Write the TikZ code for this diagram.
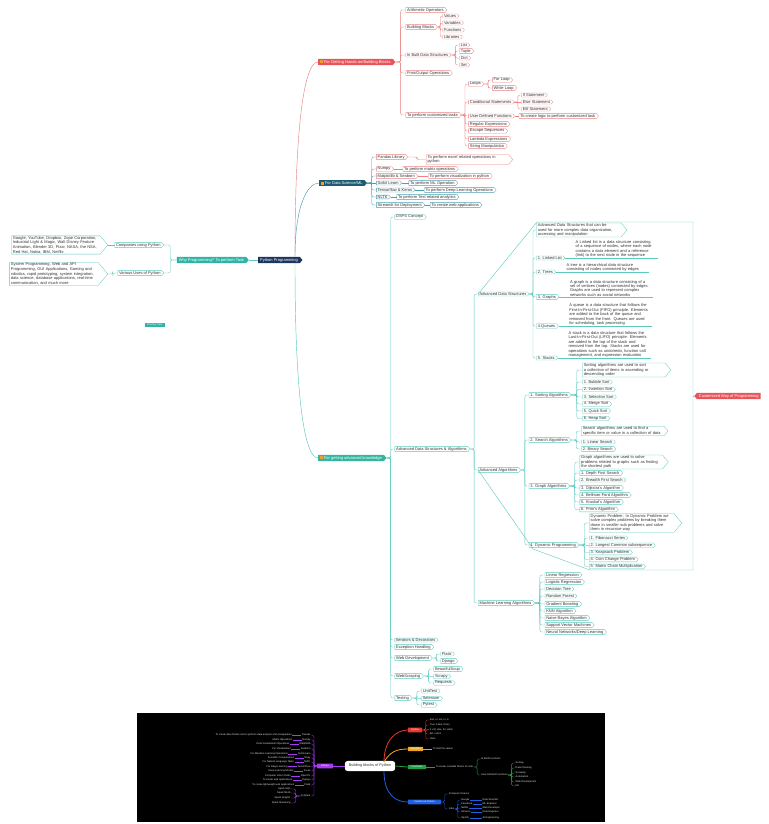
\documentclass[tikz,border=0pt]{standalone}
\usepackage{fontspec}
\setmainfont{Liberation Sans}
\usetikzlibrary{shapes.symbols,calc}
\definecolor{rfill}{HTML}{E8545A}
\definecolor{rline}{HTML}{E98585}
\definecolor{navy}{HTML}{1B365D}
\definecolor{tfill}{HTML}{2FB3A6}
\definecolor{tline}{HTML}{5CC8BE}
\definecolor{bline}{HTML}{4A9FB0}
\definecolor{dsfill}{HTML}{1E5B70}
\definecolor{afill}{HTML}{33B59E}
\definecolor{txt}{HTML}{333333}
\definecolor{icon}{HTML}{F39C34}
\definecolor{purp}{HTML}{A63CF0}
\definecolor{sred}{HTML}{E53935}
\definecolor{syel}{HTML}{F2A81D}
\definecolor{sgrn}{HTML}{22A046}
\definecolor{sblu}{HTML}{1F5FE0}
\hyphenpenalty=10000
\exhyphenpenalty=10000
\newcommand\fs{\fontsize{4}{4.6}\selectfont}
\newcommand\fsd{\fontsize{4}{4.4}\selectfont}
\newcommand\fsb{\fontsize{2.5}{3}\selectfont}
\newcommand\ic{\textcolor{icon}{\rule[-0.2pt]{2.8pt}{2.8pt}}\hspace{1pt}}
\newcommand\kid[7]{%
  \node[#1,xshift=#5pt] (#2) at (#3.east |- 0,#4) {#7};
  \draw[#6,lk] (#3.east) -| ($(#3.east)!0.5!(#2.west)$) |- (#2.west);}
\newcommand\kidh[6]{%
  \node[#1,xshift=#4pt] (#2) at (#3.east) {#6};
  \draw[#5,lk] (#3.east) -- (#2.west);}
\newcommand\libr[4]{%
  \node[bl,anchor=east] (#1) at (311,#2) {#3};
  \node[bl,anchor=east,xshift=-9pt] (#1d) at (#1.west) {#4};
  \draw[purp,line width=0.9pt] (#1d.east) -- (#1.west);
  \draw[purp,line width=0.3pt,rounded corners=1.5pt] (lib.west) -| ($(lib.west)!0.5!(#1.east)$) |- (#1.east);}
\newcommand\bkid[5]{% color name parent y text
  \node[bl,anchor=west] (#2) at (#3.east |- 0,#4) [xshift=7pt] {#5};
  \draw[#1,line width=0.35pt,rounded corners=1.5pt] (#3.east) -| ($(#3.east)!0.5!(#2.west)$) |- (#2.west);}
\begin{document}
\begin{tikzpicture}[x=1pt,y=-1pt,
  lk/.style={line width=0.35pt, rounded corners=2pt},
  tag/.style={shape=signal, signal to=east, signal pointer angle=100, draw, fill=white,
    inner xsep=1.3pt, inner ysep=0.5pt, line width=0.3pt, anchor=west, text=txt, font=\fs},
  rt/.style={tag, draw=rline},
  tt/.style={tag, draw=tline},
  bt/.style={tag, draw=bline},
  rtb/.style={rt, text width=#1, align=left},
  ttb/.style={tt, text width=#1, align=left},
  ft/.style={shape=signal, signal to=east, signal pointer angle=100, fill=#1, text=white,
    inner xsep=2pt, inner ysep=1.3pt, anchor=west, font=\fs},
  desc/.style={font=\fsd, text width=82pt, align=left, inner sep=0.5pt, anchor=south west, text=txt},
  bl/.style={font=\fsb, text=gray!25, inner sep=0.4pt},
  cbx/.style={fill=#1, text=white, font=\fsb, inner xsep=1.5pt, inner ysep=1.2pt, rounded corners=0.5pt}
]
\useasboundingbox (0,0) rectangle (768,824);
\fill[white] (0,0) rectangle (768,824);

% ---------- left part ----------
\node[ft=navy] (pp) at (258,260) {Python Programming};
\node[ft=tfill, anchor=east] (why) at (249,260) {Why Programming? To perform Task};
\draw[tline, line width=0.4pt] (why.east) -- (pp.west);
\node[tt, anchor=east] (cu) at (164,245) {Companies using Python};
\node[tt, anchor=east] (vu) at (164,273) {Various Uses of Python};
\draw[tline,lk] (why.west) -| ($(why.west)!0.5!(cu.east)$) |- (cu.east);
\draw[tline,lk] (why.west) -| ($(why.west)!0.5!(vu.east)$) |- (vu.east);
\node[tt, anchor=east, text width=86pt, align=left] (cb) at (108,245) {Google, YouTube, Dropbox, Zope Corporation, Industrial Light \& Magic, Walt Disney Feature Animation, Blender 3D, Pixar, NASA, the NSA, Red Hat, Nokia, IBM, Netflix};
\node[tt, anchor=east, text width=86pt, align=left] (vb) at (108,274) {System Programming, Web and API Programming, GUI Applications, Gaming and robotics, rapid prototyping, system integration, data science, database applications, real-time communication, and much more};
\draw[tline,lk] (cu.west) -- (cb.east);
\draw[tline,lk] (vu.west) -| ($(vu.west)!0.5!(vb.east)$) |- (vb.east);
\node[ft=tfill, shape=rectangle, font=\fsb, inner ysep=1.2pt] (flt) at (145,325) {Floating Topic};

\coordinate (ppu) at ($(pp.north)+(16,0)$);
\coordinate (ppd) at ($(pp.south)+(16,0)$);

% ---------- hands-on branch ----------
\node[ft=rfill] (hb) at (318,62) {\ic For Getting Hands-on/Building Blocks};
\draw[rline,line width=0.45pt] (ppu) .. controls ($(ppu)+(0,-130)$) and ($(hb.west)+(-14,0)$) .. (hb.west);
\kid{rt}{ao}{hb}{10}{10}{rline}{Arithmetic Operators}
\kid{rt}{bb}{hb}{27}{10}{rline}{Building Blocks}
\kid{rt}{va}{bb}{16}{5}{rline}{Values}
\kid{rt}{vr}{bb}{23}{5}{rline}{Variables}
\kid{rt}{fn}{bb}{30}{5}{rline}{Functions}
\kid{rt}{lb}{bb}{37}{5}{rline}{Libraries}
\kid{rt}{ib}{hb}{55}{10}{rline}{In Built Data Structures}
\kid{rt}{ls}{ib}{45}{8}{rline}{List}
\kid{rt}{tp}{ib}{51}{8}{rline}{Tuple}
\kid{rt}{dc}{ib}{58}{8}{rline}{Dict}
\kid{rt}{sset}{ib}{65}{8}{rline}{Set}
\kid{rt}{po}{hb}{73}{10}{rline}{Print/Output Operations}
\kid{rt}{ct}{hb}{115}{10}{rline}{To perform customized tasks}
\kid{rt}{lo}{ct}{84}{7}{rline}{Loops}
\kid{rt}{flp}{lo}{80}{8}{rline}{For Loop}
\kid{rt}{wlp}{lo}{88}{8}{rline}{While Loop}
\kid{rt}{cs}{ct}{102}{7}{rline}{Conditional Statements}
\kid{rt}{ifs}{cs}{95}{7}{rline}{If Statement}
\kidh{rt}{els}{cs}{7}{rline}{Else Statement}
\kid{rt}{elf}{cs}{109}{7}{rline}{Elif Statement}
\kid{rt}{ud}{ct}{116}{7}{rline}{User Defined Functions}
\kidh{rt}{cl}{ud}{4}{rline}{To create logic to perform customized task}
\kid{rt}{rx}{ct}{124}{7}{rline}{Regular Expressions}
\kid{rt}{eq}{ct}{131}{7}{rline}{Escape Sequences}
\kid{rt}{lx}{ct}{139}{7}{rline}{Lambda Expressions}
\kid{rt}{sm}{ct}{146}{7}{rline}{String Manipulation}

% ---------- data science branch ----------
\node[ft=dsfill] (ds) at (319,183) {\ic For Data Science/ML};
\draw[bline,line width=0.45pt] (ppu) .. controls ($(ppu)+(0,-50)$) and ($(ds.west)+(-12,0)$) .. (ds.west);
\kid{rt}{pl}{ds}{157}{9}{bline}{Pandas Library}
\kid{rtb=80pt}{plx}{pl}{159.5}{18}{rline}{To perform excel related operations in python}
\kid{rt}{nm}{ds}{169}{9}{bline}{Numpy}
\kidh{rt}{nmx}{nm}{9}{rline}{To perform matrix operations}
\kid{rt}{mp}{ds}{176}{9}{bline}{Matplotlib \& Seaborn}
\kidh{rt}{mpx}{mp}{10}{rline}{To perform visualization in python}
\kidh{bt}{sk}{ds}{9}{bline}{Scikit Learn}
\kidh{bt}{skx}{sk}{7}{bline}{To perform ML Operation}
\kid{bt}{tk}{ds}{190}{9}{bline}{Tensorflow \& Keras}
\kidh{bt}{tkx}{tk}{9}{bline}{To perform Deep Learning Operations}
\kid{bt}{nl}{ds}{197}{9}{bline}{NLTK}
\kidh{bt}{nlx}{nl}{6}{bline}{To perform Text related analytics}
\kid{bt}{sl}{ds}{205}{9}{bline}{Streamlit for Deployment}
\kidh{bt}{slx}{sl}{5}{bline}{To create web applications}

% ---------- advanced branch ----------
\node[ft=afill] (adv) at (318,458) {\ic For getting advanced knowledge};
\draw[tline,line width=0.45pt] (ppd) .. controls ($(ppd)+(0,130)$) and ($(adv.west)+(-14,0)$) .. (adv.west);
\kid{tt}{dsps}{adv}{217}{8}{tline}{DSPS Concept}
\kid{tt}{adsa}{adv}{449}{8}{tline}{Advanced Data Structures \& Algorithms}
\kid{tt}{ads}{adsa}{294}{8}{tline}{Advanced Data Structures}
\kid{ttb=82pt}{adsb}{ads}{230}{7}{tline}{Advanced Data Structures that can be used for more complex data organization, accessing and manipulation}
\kid{tt}{ll}{ads}{258}{7}{tline}{1. Linked List}
\kid{tt}{tr}{ads}{272}{7}{tline}{2. Trees}
\kid{tt}{gr}{ads}{297}{7}{tline}{3. Graphs}
\kid{tt}{qu}{ads}{326}{7}{tline}{4.Queues}
\kid{tt}{stk}{ads}{358}{7}{tline}{5. Stacks}
\node[desc, xshift=10pt] (lld) at (ll.east) {A Linked list is a data structure consisting of a sequence of nodes, where each node contains a data element and a reference (link) to the next node in the sequence};
\draw[tline,lk] (ll.east) -- (lld.south east);
\node[desc, xshift=10pt] (trd) at (tr.east) {A tree is a hierarchical data structure consisting of nodes connected by edges};
\draw[tline,lk] (tr.east) -- (trd.south east);
\node[desc, xshift=10pt] (grd) at (gr.east) {A graph is a data structure consisting of a set of vertices (nodes) connected by edges. Graphs are used to represent complex networks such as social networks};
\draw[tline,lk] (gr.east) -- (grd.south east);
\node[desc, xshift=10pt] (qud) at (qu.east) {A queue is a data structure that follows the First-In-First-Out (FIFO) principle. Elements are added to the back of the queue and removed from the front. Queues are used for scheduling, task processing};
\draw[tline,lk] (qu.east) -- (qud.south east);
\node[desc, xshift=10pt] (stkd) at (stk.east) {A stack is a data structure that follows the Last-In-First-Out (LIFO) principle. Elements are added to the top of the stack and removed from the top. Stacks are used for operations such as undo/redo, function call management, and expression evaluation};
\draw[tline,lk] (stk.east) -- (stkd.south east);

\kid{tt}{aa}{adsa}{470}{8}{tline}{Advanced Algorithms}
\kid{tt}{so}{aa}{395}{8}{tline}{1. Sorting Algorithms}
\kid{ttb=80pt}{sob}{so}{370}{11}{tline}{Sorting algorithms are used to sort a collection of items in ascending or descending order}
\kid{tt}{so1}{so}{382}{11}{tline}{1. Bubble Sort}
\kid{tt}{so2}{so}{389.5}{11}{tline}{2. Insertion Sort}
\kid{tt}{so3}{so}{397}{11}{tline}{3. Selection Sort}
\kid{tt}{so4}{so}{404}{11}{tline}{4. Merge Sort}
\kid{tt}{so5}{so}{411}{11}{tline}{5. Quick Sort}
\kid{tt}{so6}{so}{418.5}{11}{tline}{6. Heap Sort}
\kid{tt}{se}{aa}{440}{8}{tline}{2. Search Algorithms}
\kid{ttb=80pt}{seb}{se}{431}{10}{tline}{Search algorithms are used to find a specific item or value in a collection of data}
\kid{tt}{se1}{se}{442}{10}{tline}{1. Linear Search}
\kid{tt}{se2}{se}{449}{10}{tline}{2. Binary Search}
\kid{tt}{ga}{aa}{486}{8}{tline}{3. Graph Algorithms}
\kid{ttb=80pt}{gab}{ga}{462}{10}{tline}{Graph algorithms are used to solve problems related to graphs such as finding the shortest path}
\kid{tt}{ga1}{ga}{473}{10}{tline}{1. Depth First Search}
\kid{tt}{ga2}{ga}{480}{10}{tline}{2. Breadth First Search}
\kid{tt}{ga3}{ga}{488}{10}{tline}{3. Dijkstra's Algorithm}
\kid{tt}{ga4}{ga}{495}{10}{tline}{4. Bellman-Ford Algorithm}
\kid{tt}{ga5}{ga}{502}{10}{tline}{5. Kruskal's Algorithm}
\kid{tt}{ga6}{ga}{509.5}{10}{tline}{6. Prim's Algorithm}
\kid{tt}{dp}{aa}{545}{8}{tline}{4. Dynamic Programming}
\kid{ttb=82pt}{dpb}{dp}{523}{10}{tline}{Dynamic Problem: In Dynamic Problem we solve complex problems by breaking them down in smaller sub problems and solve them in recursive way}
\kid{tt}{dp1}{dp}{538}{10}{tline}{1. Fibonacci Series}
\kid{tt}{dp2}{dp}{545.4}{10}{tline}{2. Longest Common subsequence}
\kid{tt}{dp3}{dp}{552.5}{10}{tline}{3. Knapsack Problem}
\kid{tt}{dp4}{dp}{559.5}{10}{tline}{4. Coin Change Problem}
\kid{tt}{dp5}{dp}{566.5}{10}{tline}{5. Matrix Chain Multiplication}

\kid{tt}{ml}{adsa}{603}{8}{tline}{Machine Learning Algorithms}
\kid{tt}{ml1}{ml}{575}{10}{tline}{Linear Regression}
\kid{tt}{ml2}{ml}{582}{10}{tline}{Logistic Regression}
\kid{tt}{ml3}{ml}{589}{10}{tline}{Decision Tree}
\kid{tt}{ml4}{ml}{596}{10}{tline}{Random Forest}
\kid{tt}{ml5}{ml}{604}{10}{tline}{Gradient Boosting}
\kid{tt}{ml6}{ml}{611}{10}{tline}{KNN Algorithm}
\kid{tt}{ml7}{ml}{618}{10}{tline}{Naive Bayes Algorithm}
\kid{tt}{ml8}{ml}{625}{10}{tline}{Support Vector Machines}
\kid{tt}{ml9}{ml}{632}{10}{tline}{Neural Networks/Deep Learning}

\kid{tt}{itd}{adv}{640}{8}{tline}{Iterators \& Decorators}
\kid{tt}{exh}{adv}{647}{8}{tline}{Exception Handling}
\kid{tt}{wd}{adv}{658}{8}{tline}{Web Development}
\kid{tt}{fk}{wd}{654}{8}{tline}{Flask}
\kid{tt}{dj}{wd}{661}{8}{tline}{Django}
\kid{tt}{wsc}{adv}{676}{8}{tline}{WebScraping}
\kid{tt}{bsp}{wsc}{669}{10}{tline}{BeautifulSoup}
\kid{tt}{scr}{wsc}{676.4}{10}{tline}{Scrapy}
\kid{tt}{rq}{wsc}{683}{10}{tline}{Requests}
\kid{tt}{tst}{adv}{698}{8}{tline}{Testing}
\kid{tt}{ut}{tst}{691}{9}{tline}{UnitTest}
\kid{tt}{sel}{tst}{698.4}{9}{tline}{Selenium}
\kid{tt}{pyt}{tst}{705}{9}{tline}{Pytest}

% boundary and summary
\draw[tline, line width=0.4pt] (ads.west) -- (537,222) -- (693,222) -- (693,570) -- (590,570) -- (533,549) -- (aa.west);
\node[ft=rfill, signal to=west] (cwp) at (694,396) {Customized Way of Programming};
\coordinate (bnd) at (693,396);
\draw[tline, line width=0.4pt] (bnd) -- (cwp.west);

% ---------- bottom dark panel ----------
\fill[black] (137,713) rectangle (605,822);
\node[fill=white, rounded corners=3pt, font=\fontsize{3.8}{4.2}\selectfont, text=black!80, minimum height=9pt, inner xsep=4pt] (bbp) at (370,766) {Building blocks of Python};
\node[cbx=purp, minimum width=16pt] (lib) at (325,766) {Library};
\draw[purp, line width=0.8pt] (lib.east) -- (bbp.west);
\libr{l1}{735}{Pandas}{To create data frames and to perform data analysis and manipulation}
\libr{l2}{740}{Numpy}{Matrix Operations}
\libr{l3}{744}{Matplotlib}{Data Visualization Operations}
\libr{l4}{749}{Seaborn}{For Visualization}
\libr{l5}{754}{Scikit-learn}{For Machine Learning Operations}
\libr{l6}{758}{Scipy}{Scientific Computations}
\libr{l7}{762}{NLTK}{For Natural Language Tasks}
\libr{l8}{766.4}{TensorFlow}{For Deep Learning}
\libr{l9}{771}{Keras}{Deep Learning Models}
\libr{l10}{776}{OpenCV}{Computer Vision Tasks}
\libr{l11}{780}{Django}{To create web applications}
\libr{l12}{785}{Flask}{To create lightweight web applications}
\node[bl,anchor=east] (psk) at (311,796) {PySpark};
\draw[purp,line width=0.3pt,rounded corners=1.5pt] (lib.west) -| ($(lib.west)!0.5!(psk.east)$) |- (psk.east);
\foreach \n/\yy/\t in {p1/789/Spark SQL, p2/793/Spark MLlib, p3/798/Spark GraphX, p4/803/Spark Streaming}{
  \node[bl,anchor=east] (\n) at (291,\yy) {\t};
  \draw[purp,line width=0.3pt,rounded corners=1.5pt] (psk.west) -| ($(psk.west)!0.5!(\n.east)$) |- (\n.east);
}

\coordinate (bbu) at (384,762);
\coordinate (bbd) at (384,771);
\node[cbx=sred, minimum width=14pt] (syn) at (415,730) {Syntax};
\node[cbx=syel, minimum width=15pt] (vrb) at (415.5,749) {Variables};
\node[cbx=sgrn, minimum width=18pt] (fun) at (417,767) {Functions};
\node[cbx=sblu, minimum width=33pt] (fld) at (424.5,802) {Fields Use Python};
\draw[sred, line width=0.8pt] (bbu) .. controls (384,740) and (396,730) .. (syn.west);
\draw[syel, line width=0.8pt] (bbu) .. controls (390,752) and (396,749) .. (vrb.west);
\draw[sgrn, line width=0.8pt] (bbp.east) -- (fun.west);
\draw[sblu, line width=0.8pt] (bbd) .. controls (384,795) and (396,802) .. (fld.west);

\bkid{sred}{sy1}{syn}{720}{and, or, not, is, in}
\bkid{sred}{sy2}{syn}{725}{True, False, None}
\bkid{sred}{sy3}{syn}{729.4}{if, elif, else, for, while}
\bkid{sred}{sy4}{syn}{734}{def, return}
\bkid{sred}{sy5}{syn}{739}{class}
\node[bl,anchor=west,xshift=9pt] (vr1) at (vrb.east) {To hold the values};
\draw[syel,line width=0.35pt] (vrb.east) -- (vr1.west);
\node[bl,anchor=west,xshift=9pt] (fu1) at (fun.east) {To create reusable blocks of code};
\draw[sgrn,line width=0.35pt] (fun.east) -- (fu1.west);
\bkid{sgrn}{inb}{fu1}{759}{In-Built Functions}
\bkid{sgrn}{udf}{fu1}{775}{User-Defined Functions}
\bkid{sgrn}{u1}{udf}{763}{Sorting}
\bkid{sgrn}{u2}{udf}{768}{Data Cleaning}
\bkid{sgrn}{u3}{udf}{773}{Scraping}
\bkid{sgrn}{u4}{udf}{777}{Automation}
\bkid{sgrn}{u5}{udf}{782}{Web Development}
\bkid{sgrn}{u6}{udf}{786}{ML}
\bkid{sblu}{cvs}{fld}{794}{Computer Science}
\bkid{sblu}{jb}{fld}{809}{Jobs}
\foreach \n/\yy/\a/\b in {j1/800/Google/Data Scientist, j2/804/Facebook/ML Engineer, j3/808/Netflix/Web Developer, j4/812/Amazon/Data Engineer, j5/818/Spotify/AI Engineering}{
  \node[bl,anchor=west] (\n) at (jb.east |- 0,\yy) [xshift=6pt] {\a};
  \draw[sblu,line width=0.3pt,rounded corners=1.5pt] (jb.east) -| ($(jb.east)!0.5!(\n.west)$) |- (\n.west);
  \node[bl,anchor=west] (\n r) at (482,\yy) {\b};
  \draw[sblu,line width=0.9pt] (\n.east) -- (\n r.west);
}
\end{tikzpicture}
\end{document}
